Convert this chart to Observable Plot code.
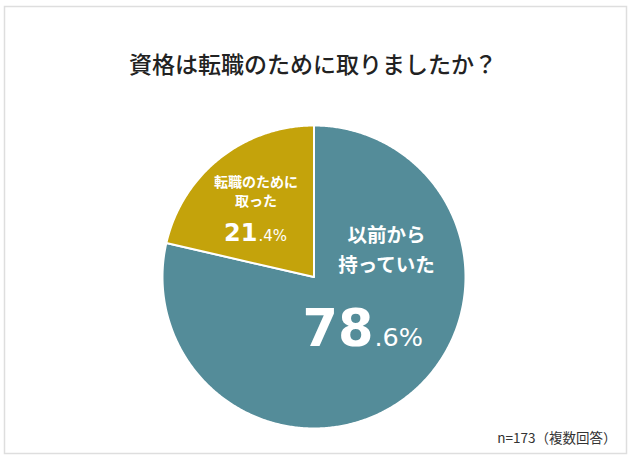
<!DOCTYPE html>
<html><head><meta charset="utf-8">
<script src="https://cdn.jsdelivr.net/npm/d3@7"></script>
<script src="https://cdn.jsdelivr.net/npm/@observablehq/plot@0.6"></script>
<style>html,body{margin:0;padding:0;background:#fff;} svg{display:block}</style>
</head><body><div id="chart"></div>
<script>
// ---- data ----
const title = "資格は転職のために取りましたか？";
const caption = "n=173（複数回答）";
const categories = ["以前から持っていた", "転職のために取った"];
const labelLines = [["以前から", "持っていた"], ["転職のために", "取った"]];
const values = [78.6, 21.4];
const intParts = ["78", "21"];
const decParts = [".6%", ".4%"];
const colors = ["#548c99", "#c4a30b"];

// ---- layout ----
const W = 633, H = 462, CX = 313.5, CY = 276.5, R = 151.5;
const FONT = "'Noto Sans CJK JP', 'Noto Sans', sans-serif";
const NUMFONT = "'DejaVu Sans', sans-serif";
// label layout per slice (pixel offsets from pie centre), sizes
const labelLayout = [
  {lx: 72.5, l1: -41, l2: -11.5, nx: 59.5, ny: 68.5, lineSize: 19.5, intSize: 51, decSize: 25.5},
  {lx: -58, l1: -94, l2: -75.5, nx: -56.5, ny: -36.5, lineSize: 14, intSize: 24, decSize: 15}
];
const ux = px => px / R;          // pixel offset -> unit
const uy = py => -py / R;         // pixel offset (down) -> unit (up)

// pie geometry
const arcs = d3.pie().sort(null).value(d => d)(values);
const polys = [];
arcs.forEach((a, i) => {
  polys.push({cat: categories[i], x: 0, y: 0});
  const n = Math.max(8, Math.ceil((a.endAngle - a.startAngle) / (Math.PI / 360)));
  for (let k = 0; k <= n; k++) {
    const t = a.startAngle + (a.endAngle - a.startAngle) * k / n;
    polys.push({cat: categories[i], x: Math.sin(t), y: Math.cos(t)});
  }
});

const lineRows = [], intRows = [], decRows = [];
categories.forEach((c, i) => {
  const L = labelLayout[i];
  lineRows.push({t: labelLines[i][0], x: ux(L.lx), y: uy(L.l1), s: L.lineSize});
  lineRows.push({t: labelLines[i][1], x: ux(L.lx), y: uy(L.l2), s: L.lineSize});
  intRows.push({t: intParts[i], x: ux(L.nx), y: uy(L.ny), s: L.intSize});
  decRows.push({t: decParts[i], x: ux(L.nx + 1), y: uy(L.ny), s: L.decSize});
});

const textMarksFor = (rows, opts) => rows.map(r =>
  Plot.text([r], {x: "x", y: "y", text: "t", fill: "white", fontWeight: 700, fontSize: r.s, fontFamily: FONT, ...opts}));

const plot = Plot.plot({
  width: W, height: H,
  marginTop: 0, marginRight: 0, marginBottom: 0, marginLeft: 0,
  style: {fontFamily: FONT, background: "#fff"},
  x: {domain: [-CX / R, (W - CX) / R], range: [0, W], axis: null},
  y: {domain: [-(H - CY) / R, CY / R], range: [H, 0], axis: null},
  color: {domain: categories, range: colors},
  marks: [
    Plot.frame({stroke: "#dedede", strokeWidth: 1.5, insetLeft: 4, insetTop: 6, insetRight: 7, insetBottom: 9}),
    Plot.line(polys, {x: "x", y: "y", z: "cat", fill: "cat", stroke: "white", strokeWidth: 2, curve: "linear-closed"}),
    ...textMarksFor(lineRows, {}),
    ...textMarksFor(intRows, {textAnchor: "end", lineAnchor: "bottom", fontFamily: NUMFONT}),
    ...textMarksFor(decRows, {textAnchor: "start", lineAnchor: "bottom", fontWeight: 400, fontFamily: NUMFONT}),
    Plot.text([title], {frameAnchor: "top", dx: -4, dy: 56, text: d => d, fontSize: 23, fontWeight: 500, fill: "#222", fontFamily: FONT}),
    Plot.text([caption], {frameAnchor: "bottom-right", dx: -17, dy: -20, text: d => d, fontSize: 13.5, fill: "#333", fontFamily: FONT, textAnchor: "end", lineAnchor: "bottom"})
  ]
});
document.getElementById("chart").appendChild(plot);
</script>
</body></html>
